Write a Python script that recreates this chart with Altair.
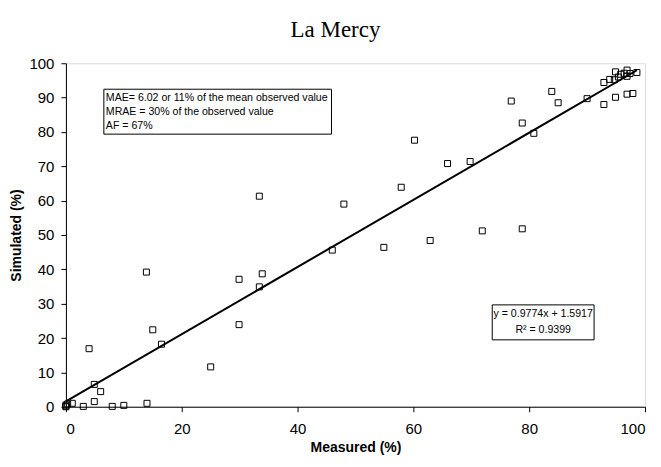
import altair as alt
import pandas as pd

measured = [0, 0, 0.3, 0, 1.1, 3.0, 4.0, 4.9, 4.9, 6.0, 8.0, 10.0, 14.0, 13.9, 15.0, 16.5,
            25.0, 29.9, 29.9, 33.4, 33.4, 33.9, 46.0, 48.0, 54.9, 57.9, 60.2, 62.9, 65.9,
            69.8, 71.9, 76.9, 78.8, 78.8, 80.8, 83.9, 85.0, 90.0, 92.9, 92.9, 93.9, 94.7,
            94.9, 94.9, 95.4, 95.8, 96.4, 96.9, 96.9, 96.9, 97.4, 97.9, 98.6]
simulated = [0, 0.5, 0.8, 0.2, 1.0, 0.1, 16.9, 6.5, 1.5, 4.4, 0.1, 0.4, 1.0, 39.2, 22.4, 18.2,
             11.6, 37.1, 23.9, 34.9, 61.3, 38.7, 45.6, 59.0, 46.4, 63.9, 77.6, 48.4, 70.8,
             71.4, 51.2, 89.0, 82.6, 51.8, 79.6, 91.8, 88.5, 89.7, 94.4, 88.0, 95.3, 95.2,
             97.5, 90.1, 96.0, 96.8, 97.1, 98.0, 96.2, 91.0, 97.0, 91.2, 97.3]

slope = 0.9774
intercept = 1.5917
line_x = [0, 98.6]

x_ticks = [0, 20, 40, 60, 80, 100]
y_ticks = [0, 10, 20, 30, 40, 50, 60, 70, 80, 90, 100]

stats_lines = ["MAE= 6.02 or 11% of the mean observed value",
               "MRAE = 30% of the observed value",
               "AF = 67%"]
eq_lines = ["y = 0.9774x + 1.5917", "R² = 0.9399"]

df = pd.DataFrame({"Measured": measured, "Simulated": simulated})
line_df = pd.DataFrame({"x": line_x})

xscale = alt.Scale(domain=[0, 100], nice=False, zero=False)
yscale = alt.Scale(domain=[0, 100], nice=False, zero=False)

axis_common = dict(domainColor="black", tickColor="black", labelColor="black",
                   titleColor="black", labelFont="Liberation Sans", labelFontSize=15,
                   titleFont="Liberation Sans", titleFontSize=14, titleFontWeight="bold",
                   grid=False, tickSize=5, labelOverlap=False)

x_axis = alt.Axis(title="Measured (%)", values=x_ticks, labelPadding=10,
                  titlePadding=4, **axis_common)
y_axis = alt.Axis(title="Simulated (%)", values=y_ticks, labelPadding=7,
                  titlePadding=5, **axis_common)

points = alt.Chart(df).mark_point(shape="square", filled=False, color="black",
                                  size=36, strokeWidth=1, opacity=1).encode(
    x=alt.X("Measured:Q", scale=xscale, axis=x_axis),
    y=alt.Y("Simulated:Q", scale=yscale, axis=y_axis),
)

trend = alt.Chart(line_df).transform_calculate(
    y=f"{slope}*datum.x+{intercept}"
).mark_line(color="black", strokeWidth=2).encode(
    x=alt.X("x:Q", scale=xscale, axis=x_axis),
    y=alt.Y("y:Q", scale=yscale, axis=y_axis),
)

box1 = alt.Chart(pd.DataFrame({"a": [0]})).mark_rect(
    fill="white", stroke="black", strokeWidth=1).encode(
    x=alt.value(38), x2=alt.value(266), y=alt.value(26), y2=alt.value(71))

stats_df = pd.DataFrame({"t": stats_lines, "i": [0, 1, 2]})
stats_text = alt.Chart(stats_df).transform_calculate(
    py="34.5 + datum.i*14.3"
).mark_text(align="left", baseline="middle", font="Liberation Sans",
            fontSize=10.6, color="black").encode(
    x=alt.value(40), y=alt.Y("py:Q", scale=None), text="t:N")

box2 = alt.Chart(pd.DataFrame({"a": [0]})).mark_rect(
    fill="white", stroke="black", strokeWidth=1).encode(
    x=alt.value(427), x2=alt.value(529), y=alt.value(242), y2=alt.value(277))

eq_df = pd.DataFrame({"t": eq_lines, "i": [0, 1]})
eq_text = alt.Chart(eq_df).transform_calculate(
    py="251.5 + datum.i*15.5"
).mark_text(align="center", baseline="middle", font="Liberation Sans",
            fontSize=10.6, color="black").encode(
    x=alt.value(478), y=alt.Y("py:Q", scale=None), text="t:N")

chart = alt.layer(points, trend, box1, stats_text, box2, eq_text).properties(
    width=580, height=344,
    title=alt.TitleParams("La Mercy", font="Liberation Serif", fontSize=23,
                          fontWeight="normal", color="black", anchor="middle",
                          offset=14, dx=-20),
    autosize=alt.AutoSizeParams(type="none"),
    padding={"left": 58, "top": 55, "right": 8, "bottom": 52},
).configure_view(stroke="#b0b0b0", strokeWidth=1).configure(background="white")

chart.save("out.html", embed_options={"renderer": "svg", "actions": False})
